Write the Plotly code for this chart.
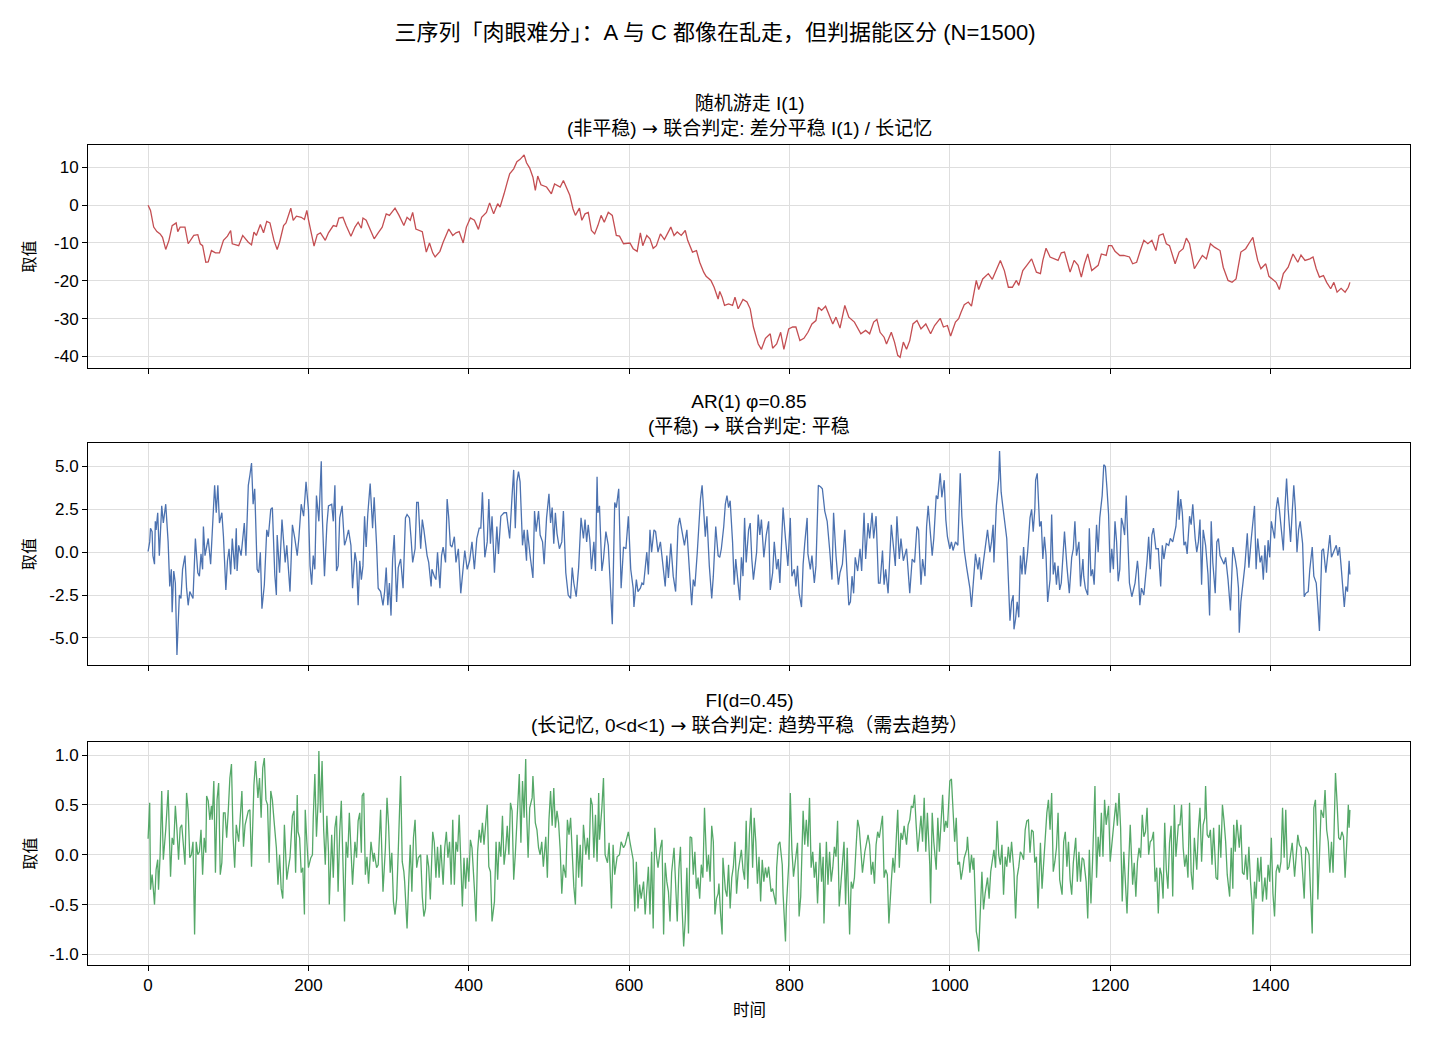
import plotly.graph_objects as go

# ---------------- data ----------------
series_a = [  # 随机游走 I(1)
    (0,0),(3,-1.4),(7,-5.8),(11,-7),(15,-7.6),(18,-8.5),(22,-11.7),(26,-9.3),(30,-5.4),(35,-4.7),
    (37,-7),(40,-5.8),(46,-5.8),(50,-10.2),(57,-8),(62,-7.8),(65,-10.2),(68,-10.7),(72,-15.1),(75,-15),
    (79,-12),(84,-12.6),(89,-12.6),(94,-9.3),(99,-8.2),(103,-6.7),(105,-10.2),(113,-10.7),(118,-8),(125,-9.8),
    (129,-10.5),(132,-7.1),(135,-8),(140,-5.1),(144,-7.3),(148,-4.3),(152,-4.7),(157,-9.3),(161,-11.7),(164,-9.8),
    (169,-5.4),(172,-4.7),(178,-0.8),(181,-4),(185,-2.9),(191,-3.2),(195,-3.8),(198,-1.4),(200,-3.8),(203,-6.7),
    (207,-10.8),(211,-7.8),(215,-7.3),(221,-9.3),(225,-7.3),(231,-5.4),(235,-5.6),(238,-3.4),(243,-3.2),(247,-5.4),
    (253,-8.2),(258,-5.8),(262,-4.5),(266,-6.1),(268,-3.4),(272,-4),(276,-5.8),(282,-8.9),(287,-7.3),(292,-5.8),
    (297,-2.3),(301,-2.7),(308,-0.8),(313,-2.7),(319,-5.4),(323,-3.2),
    (327,-4),(330,-1.9),(334,-6.3),(342,-7),(347,-12.4),(351,-10),(355,-12.6),(358,-13.7),(364,-12.2),(368,-9.8),
    (375,-6.3),(380,-8),(384,-7.3),(388,-7),(393,-10),(397,-5.8),(402,-3.4),(407,-4),(412,-6.4),(416,-3.2),
    (422,-1.9),(426,0.6),(431,-2.3),(436,0.4),(439,-0.5),(441,1.2),(444,3),(448,6.1),(451,8.3),(456,9.6),
    (460,11.5),(464,12.1),(469,13.3),(472,11.2),(476,9.8),(480,7.4),(483,3.9),(486,7.7),(490,5.4),(497,4.8),
    (503,3),(507,5.6),(514,4.8),(518,6.5),(522,4.3),(526,2.6),(530,-1),(533,-2.7),(538,-0.8),(541,-4),
    (545,-2.3),(549,-1.9),(553,-6.7),(557,-7.6),(561,-5.4),(565,-2.7),(569,-4.5),(574,-1.9),(579,-2.7),(584,-8),
    (588,-8.2),(593,-10.2),(601,-10),(605,-11.5),(610,-12.2),(614,-7.3),(617,-10.7),(622,-8),(626,-8.9),(630,-11.4),
    (634,-10.7),(639,-7.6),(644,-9.1),(652,-5.8),(656,-8),(660,-7.1),(665,-8),(670,-6.7),(673,-9.3),(679,-12.4),
    (684,-12),(688,-15.1),(693,-17.7),(696,-18.8),(702,-19.9),(706,-21.7),(711,-24.8),
    (713,-22.8),(716,-24.3),(719,-26.5),(724,-26.1),(729,-26.5),(732,-24.3),(736,-27.4),(742,-24.9),(747,-25.6),(751,-27.4),
    (755,-32.2),(761,-36.7),(765,-38.1),(770,-35.2),(776,-34),(779,-37.8),(784,-36.7),(789,-33.6),(793,-38.1),(799,-32.7),
    (804,-32.2),(808,-32.2),(813,-35.8),(818,-35.2),(823,-33.6),(828,-31.4),(833,-30.5),(836,-27),(840,-27.8),(845,-26.7),
    (850,-29.2),(854,-31.4),(858,-29.6),(863,-32.5),(869,-26.5),(874,-29.6),(881,-30.9),(889,-34),(895,-33.1),(900,-34),
    (905,-30.9),(909,-30.2),(913,-33.6),(918,-34.9),(921,-36.7),(927,-33.6),(931,-36.2),(935,-39.7),(938,-40.2),(942,-36.2),
    (946,-38.1),(950,-35.8),(954,-31.4),(959,-30.5),(964,-32.7),(970,-31.4),(976,-34),(981,-31.8),(988,-29.9),(992,-32.2),
    (997,-31.8),(1001,-34.6),(1007,-30.9),(1011,-30),(1014,-28.3),(1018,-26.3),(1023,-25.6),(1027,-26.7),(1033,-19.9),(1036,-22.3),
    (1041,-19.5),(1048,-18.1),(1053,-19.6),(1058,-17.3),(1063,-14.6),(1068,-17.3),(1073,-21.7),(1078,-21.7),(1083,-19.9),(1086,-21.2),
    (1091,-17.3),(1096,-15.9),
    (1102,-14.2),(1108,-17.7),(1113,-18.1),(1116,-14.6),(1120,-11.4),(1125,-13.7),(1131,-14.2),(1135,-14.6),(1139,-12.6),(1143,-12.4),
    (1150,-17.7),(1155,-14.6),(1160,-15.9),(1164,-19),(1168,-15.5),(1172,-12.9),(1177,-17.3),(1185,-15.9),(1189,-12.9),(1195,-13.3),
    (1198,-10.7),(1202,-10.7),(1206,-12.2),(1212,-13.3),(1217,-13.3),(1224,-13.7),(1228,-15.5),(1233,-15.1),(1237,-12.4),(1242,-9.3),
    (1247,-10.2),(1252,-9.3),(1257,-12),(1261,-8),(1266,-7.6),(1270,-10.2),(1274,-10.7),(1281,-15.5),(1286,-12.4),(1291,-11.5),
    (1295,-8.7),(1299,-10.2),(1305,-16.8),(1311,-14.6),(1315,-13.3),(1320,-14.2),(1325,-10.2),(1330,-11.1),(1337,-12),(1341,-16.4),
    (1347,-19.9),(1352,-20.4),(1357,-19.5),(1363,-12.4),(1369,-11.5),(1374,-9.8),(1378,-8.5),(1380,-10.7),(1384,-14.6),(1388,-16.8),
    (1394,-15.5),(1398,-18.8),(1402,-19.5),(1407,-20.4),(1411,-22.3),(1416,-18.1),(1422,-16.4),(1428,-12.9),(1434,-15.1),(1438,-13.2),
    (1443,-14.6),(1449,-14.2),(1453,-13.7),(1457,-16.8),(1461,-19),(1466,-18.6),(1470,-20.4),(1475,-22.1),(1479,-20.4),(1483,-23),
    (1488,-22),(1493,-23),(1497,-21.7),(1499,-20.4),
]

series_b = [  # AR(1) φ=0.85
    (0,0.04),(2,0.6),(3,1.4),(5,1.2),(6,-0.2),(8,-0.7),(9,1.8),(10,1.3),(12,2.3),(14,-0.2),(17,2.7),(19,1.7),(22,2.8),(25,0.6),
    (27,-2),(29,-1),(30,-3.5),(32,-1.1),(34,-1.8),(36,-6),(39,-2.5),(41,-2.7),(43,-1),(46,-0.2),(48,-2.1),(50,-3.1),(52,-2.3),
    (56,-2.7),(59,0.8),(62,-1.2),(64,-1.4),(66,-0.1),(68,-1),(69,1.5),(71,-0.2),(73,0.4),(75,0.8),(78,-0.7),(80,1.4),(83,3.9),
    (85,2.3),(87,3.9),(89,1.7),(92,2.3),(94,0.9),(97,-2.2),(99,-0.5),(101,0.2),(103,-1.3),(105,0.8),(108,-1),(110,1.4),(111,-1.1),
    (113,0.4),(116,-0.2),(120,1.7),(122,-0.2),(125,3.9),(127,4.5),(129,5.2),(131,2.8),(133,3.7),(136,-1),(138,-1.2),(140,0),
    (142,-3.3),(145,-1.9),(148,1.3),(150,0.9),(153,2.5),(155,2.6),(158,-1.3),(160,-2.5),(161,1),(164,-1.2),(167,1.9),(171,-0.6),
    (173,0.4),(177,-2.3),(180,1.6),(183,0.8),(186,-0.2),(188,0.8),(191,2.8),(194,2.1),(197,4.1),(200,2.5),(202,-0.8),(204,-1.9),
    (206,-0.2),(208,-1),(210,3.3),(213,1.8),(216,5.3),(217,2.5),(220,-1.4),(223,1.6),(225,2.7),(229,2.8),(231,1.8),(233,3.9),
    (235,-1.1),(237,-0.8),(239,2),(242,2.7),(245,0.4),(247,0.7),(250,1.3),(253,0.4),(255,-2.1),(258,0),(260,-0.6),(262,-3.1),
    (264,-0.5),(266,-1.6),(268,-0.8),(270,2.1),(272,0.3),(274,2.2),(277,4),(280,1.4),(282,3.2),(285,0.4),(287,-2.1),(290,-2.3),
    (293,-3.1),(295,-2.3),(297,-0.9),(299,-3.1),(301,-1.8),(303,-3.7),(305,-0.4),(307,1),(310,-2.9),(312,-0.9),(315,-0.4),
    (318,-2.1),(321,2),(323,2.2),
    (326,2),(328,0.8),(330,-0.6),(333,0.2),(335,2.9),(337,2.9),(340,0.2),(342,1.9),(344,1.3),(348,-0.2),(350,-0.6),(353,-2),
    (354,-1),(357,-1.4),(359,-1.6),(361,0),(364,-2.1),(366,-0.2),(368,0.3),(371,-0.6),(373,3.1),(375,2),(377,0.4),(379,0.3),
    (382,0.9),(384,-0.6),(387,0.2),(390,-2.4),(393,-1),(395,0.1),(398,-1),(401,-0.5),(404,0.6),(407,-1),(410,0.8),(413,1.4),
    (415,1.4),(417,3.5),(420,-0.3),(423,0.6),(425,3.1),(427,0.5),(429,2.1),(432,-1.2),(435,1.5),(437,-0.1),(440,2.1),(444,2.3),
    (447,2.3),(451,0.8),(454,3.3),(456,4.8),(458,1.4),(460,4.1),(462,4.7),(464,4.1),(467,0.4),(469,1.3),(472,-0.5),(473,1.3),
    (477,-0.4),(480,-1.5),(482,2.4),(484,1.2),(487,2.4),(489,1),(492,0.6),(494,-0.7),(497,2),(500,3.4),(502,1.7),(504,2.6),
    (506,0.5),(508,2.3),(510,1.1),(513,0.2),(516,0.6),(518,2.4),(521,-1.2),(524,-2.5),(527,-2.7),(529,-0.9),(531,-1.8),(534,-2.6),
    (537,-0.9),(540,2),(543,0.8),(545,1.9),(547,0.6),(549,1.6),(551,0.7),(553,-1),(556,0.6),(558,-1.1),(560,4.4),(561,2.3),
    (563,2.7),(566,-1.1),(568,-0.4),(571,1.2),(574,0.4),(577,-2.5),(579,-4.2),(582,2.9),(584,2.6),(587,3.7),(589,0.6),(590,-2.1),
    (593,0.3),(596,0.2),(599,2.1),(602,-1),(605,-2.1),(606,-3.2),(609,-1.6),(611,-2.3),(614,-2.1),(616,-1.8),(618,-1.9),(622,0),
    (624,-1.3),(626,1.3),(628,0),(631,1.3),(633,1.2),(636,0),(639,0.6),(642,-0.7),(645,-2),(647,-0.2),(649,-1.5),(652,0.5),
    (655,-1.4),(658,-2.3),(661,1.5),(663,2),(666,1.3),(669,0.4),(672,1.3),(675,-1),(678,-3.1),(680,-1.6),(682,-2),(685,0),
    (688,2.3),(689,3.1),(691,3.9),(693,2.5),(695,0.9),(697,2.1),(700,-0.8),(703,-2.7),(705,-1.4),(708,1.5),(711,-0.2),
    (713,-0.3),(715,0.2),(718,1.5),(720,2.8),(722,3.3),(724,2.6),(726,3),(729,0.6),(731,-1.9),(733,-0.4),(735,-1.4),(738,-2.8),
    (740,-0.3),(742,-1.4),(744,2),(746,-0.6),(749,1.3),(751,1.7),(753,-0.4),(755,-1.6),(759,0),(761,2.2),(763,1),(765,1.9),
    (768,-0.3),(771,1),(774,1.8),(776,-2.2),(779,-1.2),(781,0.6),(784,-1),(786,-0.4),(788,-1.8),(790,0.1),(792,2.6),(795,0.8),
    (798,-0.8),(801,2),(803,-1.4),(806,-1),(808,-2),(810,-0.8),(812,-2.4),(815,-3.2),(817,-0.7),(819,0.5),(822,2),(823,-0.1),
    (826,-1),(828,-0.2),(831,-1.8),(833,-0.8),(836,3.9),(839,3.8),(841,3.7),(844,2.4),(847,1.8),(850,0.2),(853,-1.6),(855,2.3),
    (858,-0.2),(861,-1.9),(863,-1.2),(866,-0.7),(869,1.3),(872,-1.4),(874,-3.1),(876,-2.9),(878,-1.4),(880,-2.4),(882,-0.3),
    (885,-1.1),(888,0.2),(890,-1.1),(893,2.3),(895,-0.4),(898,1.7),(900,0.8),(903,2.3),(905,0.8),(908,2.1),(911,-1.8),(913,-1.8),
    (916,0.1),(918,-1.9),(920,-1),(923,-2.4),(927,1.6),(929,0.6),(932,-0.8),(934,2.1),(937,-0.4),(939,0.8),(942,-0.5),(946,0.2),
    (948,-1),(950,-2.4),(953,-0.4),(956,-0.6),(959,1.5),(961,1.3),(964,-1.9),(966,-0.4),(969,-1.4),(971,1.5),(973,2.7),(976,0.8),
    (978,-0.2),(980,0.8),(983,3.3),(985,3.1),(988,4.6),(990,3.2),(993,4.2),(995,1.9),(997,0.9),(1000,0.2),(1002,0.6),(1004,0.1),
    (1007,0.6),(1010,0.4),(1013,4.6),(1015,2.1),(1018,0.1),(1021,-0.9),(1023,-1.6),(1025,-2.1),(1027,-3.2),(1030,-1.5),
    (1032,-0.1),(1035,-1),(1037,-0.3),(1039,-1.6),(1043,-0.1),(1045,0.8),(1047,1.3),(1050,0),(1052,0.6),(1054,1.6),(1055,-0.6),
    (1058,2.7),(1061,4.3),(1062,5.9),(1064,3.5),(1066,2.7),(1068,1.8),(1071,0.8),(1073,-1.6),(1075,-4),(1077,-2.9),(1079,-2.5),
    (1080,-4.5),(1082,-3.9),(1084,-2.9),(1086,-3.8),(1088,-0.2),(1090,-1.3),(1092,0.3),(1094,-1.3),(1097,0),(1100,2),
    (1102,2.5),(1104,1.2),(1106,2.5),(1107,4.2),(1109,4.6),(1110,3.5),(1112,1.5),(1114,1.8),(1116,-0.4),(1118,0.9),(1120,-0.2),
    (1122,-2.9),(1125,-1.6),(1127,2.2),(1129,-1.3),(1131,-0.6),(1133,-1.9),(1135,-0.8),(1137,-2.2),(1139,-1.8),(1141,-0.2),
    (1143,1.2),(1146,-0.8),(1149,-2.4),(1152,-0.3),(1154,0.2),(1156,1.8),(1158,-0.2),(1161,0.6),(1163,-2),(1166,-0.4),(1167,-1.4),
    (1169,-2.1),(1172,-2.5),(1174,1.4),(1176,-1.4),(1178,-1),(1180,-1.9),(1183,1.6),(1185,0),(1187,2),(1190,3.3),(1192,5.1),
    (1194,5),(1196,3.7),(1198,2.2),(1200,-1.2),(1202,0.2),(1204,-1),(1206,1.8),(1208,0.6),(1210,-1.7),(1212,-1),(1214,2),
    (1216,1.6),(1218,1),(1220,3.3),(1222,0.6),(1224,-1.8),(1227,-2.6),(1229,-2.1),(1231,-1.8),(1234,-0.5),(1235,-1),(1237,-3.1),
    (1239,-2.1),(1242,-2.5),(1244,-1.6),(1246,-0.5),(1248,0.9),(1250,-1),(1252,1),(1254,1.4),(1257,0.2),(1260,0.2),(1263,-2),
    (1265,0.4),(1267,-0.4),(1270,0.5),(1273,0.4),(1275,0.8),(1278,0.6),(1280,1.1),(1282,1.5),(1285,3.6),(1286,1.9),(1288,3.1),
    (1290,2.3),(1292,0.4),(1294,0.6),(1296,-0.1),(1299,2.1),(1301,1.6),(1303,2.8),(1306,0.8),(1308,0),(1310,0.6),(1312,1.9),
    (1314,-1.9),(1316,1.3),(1319,0.4),(1322,-1.3),(1324,-3.7),(1326,1.8),(1328,-0.6),(1331,-2.4),(1333,0.6),(1335,0.8),
    (1337,-0.2),(1339,-0.4),(1342,-0.7),(1344,-0.3),(1347,-1.6),(1350,-3.4),(1351,-1.9),(1353,0.3),(1356,-0.4),(1358,-1),
    (1360,-2.1),(1361,-4.7),(1363,-2.9),(1366,-1.6),(1368,-0.8),(1371,1.1),(1373,-0.9),(1376,0.8),(1378,1.6),(1380,2.7),
    (1382,-1),(1384,0.8),(1387,-0.6),(1389,-0.2),(1391,-1.6),(1393,0.4),(1395,-1.2),(1397,0.7),(1399,-0.3),(1401,1.8),(1403,1.3),
    (1405,0.8),(1407,2.5),(1409,3.2),(1411,2.5),(1414,1),(1416,0.1),(1418,2.6),(1420,4.3),(1422,2.5),(1425,0.6),(1427,2.3),
    (1429,3.9),(1431,2.5),(1433,0),(1435,1.3),(1437,1.8),(1440,0.5),(1442,-2.6),(1444,-2.4),(1447,-2.3),(1449,-1),(1452,0.3),
    (1454,-1.4),(1457,-1.8),(1459,-3.1),(1461,-4.6),(1464,0.1),(1466,0.2),(1469,-1.2),(1471,-0.4),(1474,1),(1476,-0.3),(1479,0),
    (1482,0.4),(1484,-0.2),(1486,0.3),(1488,-0.8),(1490,-2),(1492,-3.2),(1494,-2),(1496,-2.3),(1498,-0.5),(1499,-1.3),
]

series_c = [  # FI(d=0.45)
    (0,0.16),(2,0.52),(3,-0.35),(5,-0.2),(7,-0.39),(8,-0.5),(10,-0.15),(12,-0.05),(13,-0.35),(15,0),(17,0.64),(19,-0.05),
    (22,0.25),(25,0.65),(28,-0.22),(30,0.17),(32,0.1),(34,0.49),(36,0.25),(38,-0.05),(40,0.27),(42,0.3),(46,-0.1),(48,0.62),
    (50,0.44),(52,-0.03),(54,0),(56,0.13),(58,-0.8),(60,0.13),(62,0),(64,0.03),(66,0.25),(68,-0.2),(70,0.17),(72,0.02),
    (73,0.59),(75,0.54),(77,0.35),(79,0.49),(80,0.35),(82,0.74),(84,-0.18),(86,0.55),(88,0.72),(90,-0.2),(92,-0.08),(94,0.42),
    (96,0.42),(98,0.17),(100,0.44),(102,0.77),(104,0.91),(106,0.18),(108,-0.13),(110,0.3),(113,0.13),(115,0.44),(117,0.64),
    (119,0.08),(121,0.3),(123,0.37),(125,0.44),(127,0.45),(129,-0.12),(132,0.7),(134,0.94),(137,0.57),(139,0.77),(141,0.37),
    (143,0.87),(145,0.97),(147,0.55),(149,0.5),(151,-0.08),(153,0.64),(155,0.55),(157,0.35),(160,0.07),(162,-0.3),(164,0),
    (166,-0.34),(168,-0.44),(170,0.3),(173,-0.25),(175,-0.13),(177,-0.03),(180,0.39),(182,0.44),(184,-0.18),(186,0.6),(187,0.23),
    (189,0.17),(191,-0.18),(193,-0.13),(195,-0.6),(196,0.45),(198,0.13),(200,-0.13),(203,-0.03),(205,0),(206,0.37),(208,0.81),
    (210,0.18),(212,0.52),(213,1.04),(215,0.42),(217,0.94),(219,0.25),(221,-0.1),(223,0.39),(225,0.03),(226,-0.5),(229,0.2),
    (231,-0.23),(233,0.27),(235,0.39),(237,-0.37),(239,0.23),(241,0.54),(243,-0.22),(245,-0.67),(247,0.13),(249,-0.03),
    (251,0.42),(253,0.03),(255,-0.3),(258,0.13),(260,-0.03),(262,0.34),(264,0.42),(266,0.02),(267,0.59),(269,0.62),(271,-0.2),
    (273,-0.02),(275,-0.29),(277,-0.02),(278,0.13),(281,-0.07),(282,0.02),(285,-0.13),(287,-0.1),(290,0.45),(292,-0.15),
    (293,-0.37),(296,0.07),(298,0.57),(300,0.29),(302,-0.18),(304,0.02),(306,-0.47),(308,-0.6),(310,-0.44),(312,0.03),(315,0.79),
    (317,-0.07),(319,-0.17),(320,-0.27),(323,-0.74),
    (325,-0.29),(327,0.1),(329,-0.37),(331,0.17),(333,0.35),(335,-0.13),(337,-0.03),(340,0),(342,-0.42),(344,-0.62),(346,-0.54),
    (348,0),(350,-0.12),(352,-0.45),(355,0.23),(357,0.12),(359,-0.23),(361,0.08),(363,-0.23),(365,0.1),(368,-0.3),(370,0.07),
    (372,0.23),(374,-0.03),(376,0.13),(378,-0.3),(380,0.35),(382,-0.3),(384,0.13),(386,0.03),(388,0.4),(390,-0.1),(392,-0.52),
    (394,-0.03),(396,-0.34),(398,-0.03),(400,-0.27),(402,0.15),(404,0.07),(407,-0.34),(409,-0.67),(411,0.03),(413,0.25),
    (415,0.12),(417,0.32),(419,0.1),(421,0.29),(423,0.5),(425,-0.12),(427,-0.17),(429,-0.67),(432,-0.47),(434,0.13),(436,-0.25),
    (438,0.13),(440,-0.02),(442,0.39),(444,-0.1),(446,0.05),(448,0.29),(450,0),(452,0.52),(454,0.44),(456,-0.25),(458,0),
    (461,0.55),(463,0.81),(465,0.12),(467,0.74),(469,0.37),(471,0.96),(472,0.45),(474,-0.03),(476,0.47),(479,0.57),(480,0.79),
    (483,0.32),(485,0.25),(487,0.07),(489,0),(491,0.13),(493,-0.12),(496,0.18),(498,-0.23),(500,0.35),(502,0.64),(504,0.29),
    (506,0.67),(508,0.27),(510,0.44),(512,0.32),(514,0.05),(516,-0.39),(518,-0.1),(521,-0.23),(523,0.35),(525,0.2),(527,0.37),
    (529,0.03),(531,-0.32),(533,-0.5),(535,0.2),(537,-0.23),(539,0.1),(541,-0.32),(543,0.3),(546,0),(548,0.17),(550,-0.05),
    (552,0.57),(554,0.5),(556,-0.03),(558,0.4),(560,-0.07),(562,0.62),(563,0.15),(566,0.47),(568,0.77),(570,0),(573,-0.08),
    (575,0.12),(577,-0.39),(578,-0.54),(580,0.1),(582,-0.2),(585,-0.02),(588,0),(590,0.13),(593,0.07),(595,0.1),(597,0.18),
    (599,0.23),(601,0.13),(603,0.02),(605,-0.05),(607,-0.57),(609,-0.07),(611,-0.54),(613,-0.3),(615,-0.44),(618,-0.27),
    (620,-0.6),(622,-0.35),(624,-0.12),(626,-0.6),(628,0.03),(630,-0.74),(632,0.27),(634,0),(636,-0.13),(639,0.07),(641,0.15),
    (643,-0.8),(645,-0.08),(647,-0.27),(649,-0.37),(651,-0.67),(653,-0.18),(656,0.07),(658,-0.29),(660,-0.67),(662,-0.15),
    (664,0.08),(666,-0.52),(668,-0.92),(670,-0.65),(672,-0.13),(674,-0.79),(676,0.18),(678,0.17),(680,-0.2),(682,0.03),
    (684,-0.34),(686,-0.23),(688,-0.44),(690,-0.1),(692,-0.23),(694,0.47),(697,-0.17),(699,0),(701,-0.27),(703,0.29),(705,0.13),
    (707,-0.6),(709,-0.44),(711,-0.39),
    (712,-0.29),(714,-0.59),(716,-0.8),(717,-0.03),(720,-0.35),(722,-0.42),(724,-0.1),(726,-0.54),(728,-0.23),(730,-0.12),
    (732,0.13),(734,-0.39),(736,-0.17),(740,0.05),(742,-0.15),(744,-0.25),(746,0.34),(748,-0.34),(750,0.2),(752,0.47),
    (754,-0.13),(756,0.37),(758,0.13),(760,-0.29),(762,-0.02),(764,-0.47),(766,-0.05),(768,-0.27),(770,-0.13),(772,-0.23),
    (774,-0.12),(777,-0.37),(779,-0.34),(781,-0.42),(783,-0.5),(784,-0.13),(786,0.1),(788,0.13),(791,-0.1),(792,-0.39),
    (795,-0.87),(796,-0.54),(799,-0.1),(801,0.62),(803,0.05),(805,-0.22),(807,-0.1),(810,0.12),(812,-0.62),(814,-0.42),
    (817,0.44),(819,0.1),(821,0.35),(823,0.08),(825,0.57),(827,-0.13),(829,0.03),(831,-0.23),(833,-0.07),(835,-0.49),(838,0.12),
    (840,-0.27),(842,-0.02),(843,-0.69),(846,0.13),(848,-0.3),(850,0.03),(852,-0.27),(854,-0.13),(856,0.08),(858,-0.02),
    (860,0.34),(862,-0.52),(864,-0.27),(866,-0.03),(868,0.13),(870,-0.5),(872,0.07),(875,-0.8),(877,-0.27),(879,-0.34),
    (881,-0.23),(883,0.07),(885,0.35),(887,0.27),(889,0),(891,-0.18),(894,0.03),(896,0.13),(898,0.2),(900,0.1),(902,-0.2),
    (904,-0.07),(906,-0.29),(908,0.1),(910,0.23),(912,0.17),(914,0.27),(916,0.39),(918,-0.23),(920,-0.15),(922,-0.2),
    (924,-0.69),(927,-0.27),(929,-0.03),(931,-0.18),(933,0.12),(935,0.45),(937,-0.13),(939,0.22),(941,0.15),(943,0.29),
    (946,0.1),(948,0.3),(950,0.35),(952,0.49),(954,0.47),(956,0.6),(958,0.3),(960,0.03),(962,0.2),(964,0.39),(966,0.13),
    (968,0.57),(970,0.03),(972,0.42),(975,-0.1),(976,-0.49),(978,0.42),(980,0.13),(983,-0.15),(985,0.37),(987,0.03),(989,0.29),
    (991,0.6),(993,0.23),(995,0.34),(997,0.27),(999,0.64),(1000,0.74),(1002,0.76),(1004,0.44),(1006,0.13),(1008,0.37),
    (1010,-0.1),(1012,-0.07),(1014,-0.25),(1016,-0.15),(1018,-0.03),(1021,0.05),(1022,0.18),(1025,-0.18),(1027,0),(1029,-0.15),
    (1030,-0.03),(1033,-0.77),(1035,-0.86),(1036,-0.97),(1038,-0.57),(1040,-0.17),(1042,-0.55),(1044,-0.39),(1047,-0.23),
    (1049,-0.44),(1051,-0.17),(1053,-0.05),(1055,0.05),(1057,-0.13),(1059,0.34),(1061,0),(1063,-0.1),(1065,0.1),(1067,-0.4),
    (1069,-0.02),(1071,-0.12),(1073,0.08),(1075,-0.08),(1077,0.13),(1080,-0.18),(1082,-0.64),(1084,-0.22),(1086,-0.12),
    (1088,0.03),(1090,0),(1092,-0.05),(1094,0.25),(1096,0.34),(1098,0.35),
    (1100,0.02),(1102,0.25),(1104,0.23),(1106,-0.08),(1108,-0.02),(1110,-0.54),(1113,0.12),(1115,-0.34),(1117,-0.1),(1119,0.23),
    (1121,0.42),(1123,0.55),(1125,0.25),(1127,0.62),(1129,-0.17),(1131,-0.07),(1133,0.07),(1135,0.42),(1137,-0.25),(1140,-0.4),
    (1142,0.13),(1144,0.23),(1146,-0.12),(1148,0.13),(1150,-0.25),(1152,-0.4),(1154,-0.08),(1157,0.17),(1159,-0.27),(1161,0.03),
    (1163,-0.27),(1165,-0.03),(1167,-0.05),(1170,-0.27),(1172,-0.64),(1174,0.05),(1176,-0.49),(1178,-0.07),(1181,0.69),
    (1183,-0.23),(1185,0.18),(1187,-0.02),(1189,0.42),(1191,-0.02),(1193,0.55),(1195,0.3),(1198,0.49),(1200,-0.07),(1202,0.12),
    (1205,0.34),(1207,0.52),(1209,0.29),(1211,0.62),(1213,0.27),(1215,-0.47),(1217,0.03),(1219,-0.34),(1221,-0.59),(1223,-0.1),
    (1225,0.3),(1228,-0.3),(1230,-0.08),(1232,-0.42),(1234,-0.07),(1236,0.07),(1238,-0.03),(1240,0.4),(1242,0.18),(1244,0.23),
    (1246,0.47),(1248,0),(1250,0.13),(1252,0.15),(1254,0.23),(1256,-0.27),(1258,-0.13),(1260,-0.59),(1262,-0.13),(1264,-0.2),
    (1266,-0.44),(1268,0.32),(1270,-0.15),(1272,-0.34),(1274,0.12),(1276,0.29),(1278,-0.42),(1280,0.5),(1282,-0.02),(1285,0.3),
    (1287,0.3),(1289,0.5),(1291,0.07),(1293,-0.12),(1295,0),(1297,-0.23),(1299,0.52),(1301,-0.18),(1303,-0.35),(1305,0.17),
    (1308,-0.15),(1310,0.25),(1312,0.47),(1314,-0.07),(1316,0.3),(1318,0.37),(1319,0.69),(1321,0.2),(1323,0.17),(1325,0.25),
    (1327,-0.1),(1329,0.27),(1332,-0.23),(1334,-0.25),(1336,0.3),(1338,-0.03),(1340,0.5),(1342,0.34),(1344,0.13),(1346,-0.2),
    (1349,-0.42),(1351,0.07),(1353,-0.34),(1354,0.3),(1356,0.03),(1358,0.35),(1361,0.07),(1363,0.3),(1365,-0.18),(1367,-0.2),
    (1369,0),(1371,-0.25),(1373,0.08),(1375,-0.27),(1377,-0.5),(1378,-0.8),(1380,-0.27),(1382,-0.44),(1384,-0.03),(1386,-0.27),
    (1388,-0.02),(1390,-0.47),(1393,-0.23),(1395,-0.45),(1397,-0.1),(1399,-0.27),(1401,0.17),(1403,-0.39),(1405,-0.62),
    (1407,-0.17),(1409,-0.1),(1411,-0.18),(1413,-0.07),(1415,0.47),(1417,-0.03),(1419,0.45),(1421,-0.15),(1423,-0.12),
    (1425,0.03),(1427,0.12),(1430,-0.22),(1432,-0.03),(1434,0.2),(1436,0.1),(1438,0.07),(1440,-0.18),(1442,-0.44),(1444,0.08),
    (1446,0.05),(1448,0),(1450,-0.45),(1452,-0.79),(1454,0.47),(1456,0.55),(1458,0),(1459,-0.45),(1461,-0.02),(1463,0.45),
    (1466,0.37),(1468,0.65),(1470,0.25),(1472,0.13),(1474,-0.18),(1476,0.13),(1478,-0.18),(1480,0.57),(1481,0.82),(1483,0.52),
    (1485,0.17),(1487,0.15),(1489,0.23),(1491,0.18),(1493,-0.23),(1495,0.1),(1497,0.5),(1498,0.27),(1499,0.45),
]

x_ticks = [0, 200, 400, 600, 800, 1000, 1200, 1400]
a_ticks = [10, 0, -10, -20, -30, -40]
a_ticktext = ["10", "0", "-10", "-20", "-30", "-40"]
b_ticks = [5.0, 2.5, 0.0, -2.5, -5.0]
b_ticktext = ["5.0", "2.5", "0.0", "-2.5", "-5.0"]
c_ticks = [1.0, 0.5, 0.0, -0.5, -1.0]
c_ticktext = ["1.0", "0.5", "0.0", "-0.5", "-1.0"]

ARROW = "<span style='font-family:DejaVu Sans'>→</span>"
titles = [
    "随机游走 I(1)<br>(非平稳) " + ARROW + " 联合判定: 差分平稳 I(1) / 长记忆",
    "AR(1) φ=0.85<br>(平稳) " + ARROW + " 联合判定: 平稳",
    "FI(d=0.45)<br>(长记忆, 0<d<1) " + ARROW + " 联合判定: 趋势平稳（需去趋势）",
]
main_title = "三序列「肉眼难分」：A 与 C 都像在乱走，但判据能区分 (N=1500)"

# ---------------- figure ----------------
FONT = "Liberation Sans, Arial, 'Noto Sans CJK SC', sans-serif"
colors = ["#c44e52", "#4c72b0", "#55a868"]
series = [series_a, series_b, series_c]
domains = [[0.728, 1.0], [0.3659, 0.6366], [0.0, 0.272]]
yranges = [[-43.05, 15.9], [-6.58, 6.37], [-1.106, 1.131]]
yticks = [(a_ticks, a_ticktext), (b_ticks, b_ticktext), (c_ticks, c_ticktext)]

fig = go.Figure()
for i, (pts, col) in enumerate(zip(series, colors)):
    t = [p[0] for p in pts]
    v = [p[1] for p in pts]
    sfx = "" if i == 0 else str(i + 1)
    fig.add_trace(go.Scatter(x=t, y=v, mode="lines", line=dict(color=col, width=1.3),
                             xaxis="x" + sfx, yaxis="y" + sfx, showlegend=False,
                             hoverinfo="skip"))

axis_common = dict(showline=True, linecolor="black", linewidth=1, mirror=True,
                   ticks="outside", ticklen=5, tickwidth=1, tickcolor="black",
                   showgrid=True, gridcolor="#dedede", gridwidth=0.8, zeroline=False,
                   tickfont=dict(size=17, color="black", family=FONT))

layout = dict(
    width=1430, height=1040,
    margin=dict(l=88, r=20, t=145, b=75),
    paper_bgcolor="white", plot_bgcolor="white",
    font=dict(family=FONT, color="black"),
    title=dict(text=main_title, x=0.5, xref="container", xanchor="center",
               y=1 - 32 / 1040, yref="container", yanchor="middle",
               font=dict(size=22, color="black", family=FONT)),
    annotations=[],
)

for i in range(3):
    sfx = "" if i == 0 else str(i + 1)
    xa = dict(axis_common, domain=[0, 1], range=[-74.95, 1573.95], anchor="y" + sfx,
              tickmode="array", tickvals=x_ticks, ticktext=[str(v) for v in x_ticks],
              showticklabels=(i == 2))
    ya = dict(axis_common, domain=domains[i], range=yranges[i], anchor="x" + sfx,
              tickmode="array", tickvals=yticks[i][0], ticktext=yticks[i][1])
    layout["xaxis" + sfx] = xa
    layout["yaxis" + sfx] = ya
    layout["annotations"].append(dict(
        text=titles[i], xref="x" + sfx + " domain", yref="y" + sfx + " domain",
        x=0.5, y=1, xanchor="center", yanchor="bottom", yshift=4, showarrow=False,
        font=dict(size=19, color="black", family=FONT)))
    mid = (domains[i][0] + domains[i][1]) / 2
    layout["annotations"].append(dict(
        text="取值", xref="paper", yref="paper", x=(30 - 88) / 1322, y=mid,
        xanchor="center", yanchor="middle", textangle=-90, showarrow=False,
        font=dict(size=16, color="black", family=FONT)))

layout["annotations"].append(dict(
    text="时间", xref="paper", yref="paper", x=0.5, y=(965 - 1010) / 820,
    xanchor="center", yanchor="middle", showarrow=False,
    font=dict(size=16.5, color="black", family=FONT)))

fig.update_layout(**layout)
fig.write_html("out.html")
